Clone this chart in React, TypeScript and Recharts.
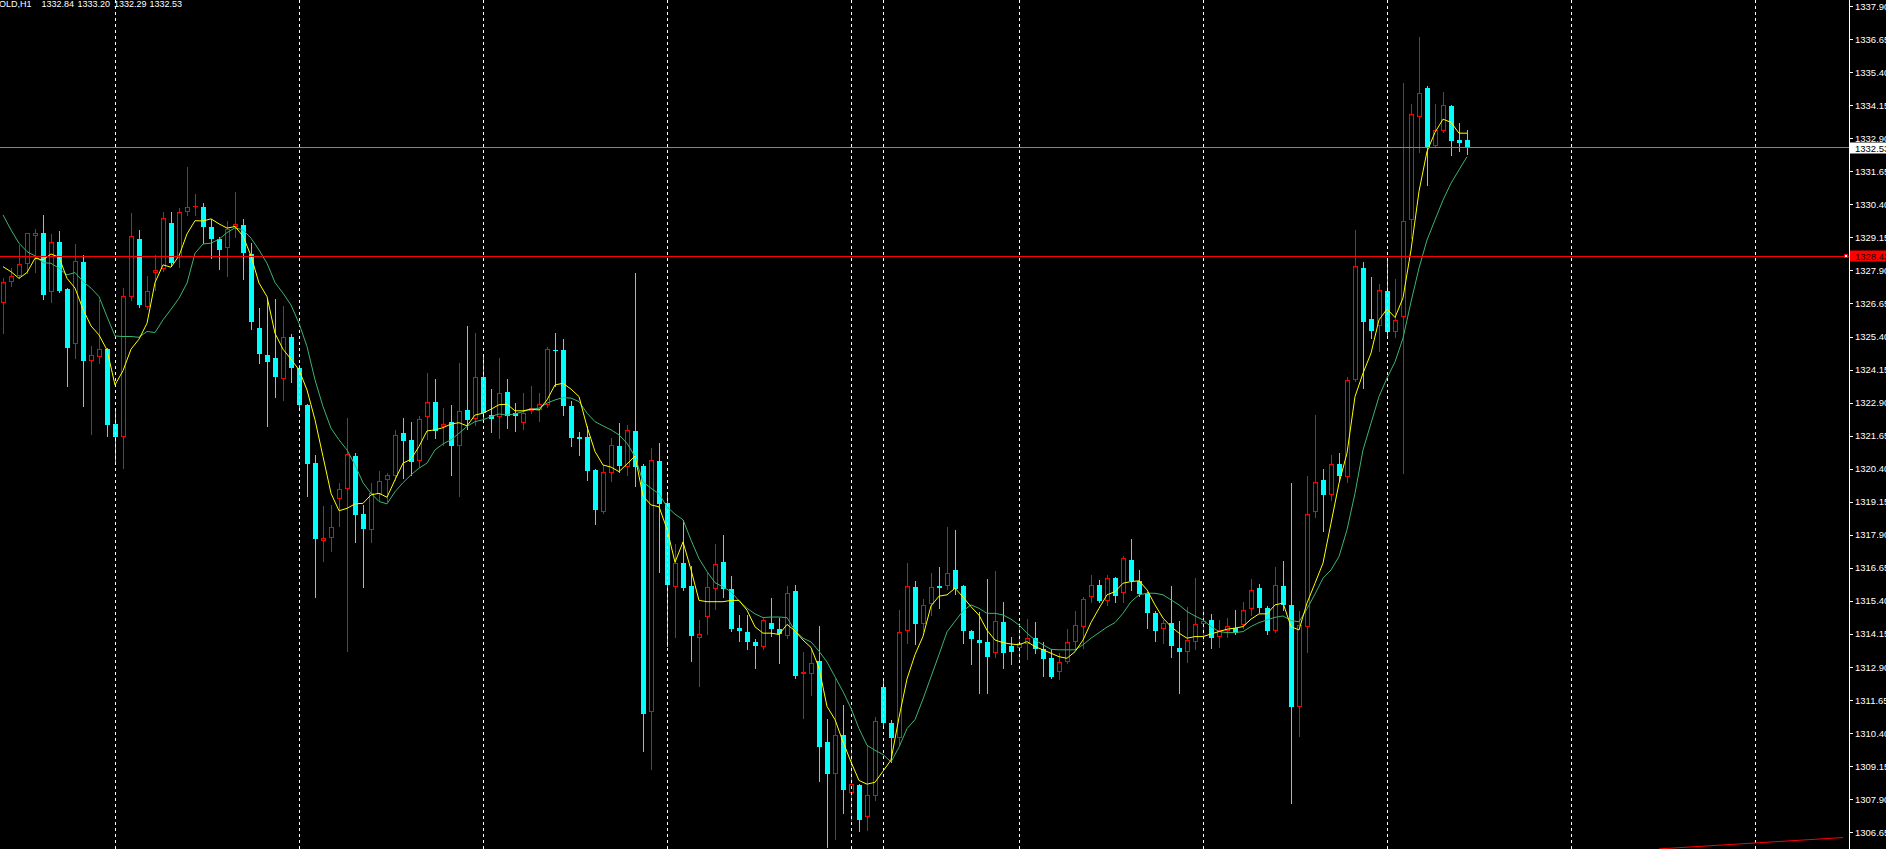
import { Bar, ComposedChart, Line, ReferenceLine, XAxis, YAxis } from "recharts";

// GOLD H1 candles (oldest first)
const opens = [
  1326.66, 1327.45, 1327.67, 1328.13, 1329.19, 1329.32, 1327.08, 1328.98, 1327.2, 1325.11,
  1328.22, 1324.49, 1324.62, 1324.93, 1322.09, 1321.59, 1326.91, 1329.09, 1326.51, 1327.82,
  1327.95, 1329.7, 1328.42, 1330.1, 1330.29, 1330.29, 1329.54, 1329.1, 1328.74, 1329.53,
  1329.62, 1328.51, 1325.73, 1324.69, 1324.59, 1323.81, 1325.38, 1324.2, 1322.81, 1320.62,
  1317.66, 1317.77, 1319.25, 1319.65, 1320.88, 1318.69, 1318.07, 1319.45, 1319.97, 1320.12,
  1321.75, 1321.49, 1320.71, 1322.35, 1322.93, 1321.97, 1322.17, 1321.25, 1322.62, 1322.28,
  1323.87, 1322.42, 1322.35, 1323.3, 1322.5, 1322.12, 1322.6, 1322.62, 1322.8, 1324.89,
  1324.89, 1322.77, 1321.6, 1321.6, 1320.34, 1318.78, 1320.25, 1321.26, 1320.48, 1321.83,
  1320.51, 1311.2, 1320.71, 1319.11, 1315.93, 1316.85, 1315.98, 1313.99, 1314.79, 1315.85,
  1316.89, 1315.85, 1314.39, 1314.23, 1313.85, 1313.65, 1314.58, 1314.34, 1314.07, 1315.79,
  1312.64, 1312.64, 1313.11, 1310.05, 1308.85, 1310.31, 1308.12, 1308.44, 1307.21, 1308.02,
  1312.15, 1310.8, 1310.22, 1314.25, 1315.93, 1314.51, 1315.29, 1315.95, 1315.95, 1316.56,
  1315.95, 1314.27, 1313.92, 1313.84, 1313.42, 1314.6, 1313.7, 1313.61, 1313.76, 1313.99,
  1313.57, 1313.24, 1312.7, 1313.08, 1313.84, 1314.4, 1315.56, 1316.0, 1315.41, 1316.28,
  1315.69, 1316.95, 1316.16, 1315.69, 1314.93, 1314.33, 1314.56, 1313.63, 1313.48, 1313.86,
  1314.52, 1314.68, 1314.03, 1314.28, 1314.37, 1314.5, 1315.09, 1315.9, 1315.12, 1314.28,
  1315.97, 1315.25, 1311.4, 1314.43, 1318.78, 1319.98, 1319.41, 1320.57, 1320.1, 1323.77,
  1327.99, 1326.07, 1325.79, 1327.12, 1325.58, 1326.15, 1329.8, 1333.69, 1334.8, 1332.62,
  1333.19, 1334.12, 1332.84, 1332.84,
];

const highs = [
  1327.62, 1327.98, 1328.86, 1329.33, 1329.47, 1330.0, 1329.28, 1329.39, 1327.25, 1328.89,
  1328.49, 1325.04, 1326.78, 1324.98, 1322.69, 1327.23, 1330.07, 1329.43, 1327.69, 1328.49,
  1330.11, 1330.11, 1330.25, 1331.81, 1330.79, 1330.44, 1329.85, 1329.18, 1329.75, 1330.87,
  1329.85, 1328.95, 1326.49, 1326.81, 1326.81, 1326.56, 1325.5, 1324.33, 1322.86, 1320.92,
  1318.99, 1319.03, 1319.87, 1322.33, 1320.99, 1319.03, 1319.87, 1320.31, 1320.25, 1321.87,
  1322.33, 1322.17, 1322.4, 1324.02, 1323.8, 1322.71, 1322.81, 1324.4, 1325.8, 1325.55,
  1324.74, 1323.43, 1324.59, 1323.8, 1322.89, 1323.27, 1323.51, 1323.27, 1325.02, 1325.54,
  1325.31, 1322.96, 1321.79, 1322.01, 1320.38, 1320.53, 1321.56, 1322.12, 1322.07, 1327.81,
  1320.58, 1321.2, 1321.38, 1319.52, 1317.56, 1318.47, 1316.72, 1314.69, 1316.45, 1317.56,
  1317.91, 1316.35, 1314.88, 1314.88, 1313.95, 1314.76, 1315.51, 1314.76, 1315.98, 1316.02,
  1313.48, 1313.6, 1314.45, 1310.95, 1312.45, 1311.48, 1309.87, 1308.48, 1309.94, 1311.01,
  1312.45, 1310.91, 1315.04, 1316.82, 1316.16, 1315.49, 1316.47, 1316.68, 1318.19, 1318.09,
  1316.0, 1314.3, 1314.97, 1316.23, 1316.53, 1315.35, 1314.05, 1314.56, 1314.72, 1314.6,
  1313.84, 1313.57, 1313.42, 1314.34, 1315.02, 1315.56, 1316.38, 1316.2, 1316.38, 1316.32,
  1317.1, 1317.74, 1316.57, 1315.74, 1315.02, 1314.68, 1315.97, 1314.64, 1315.18, 1316.28,
  1315.21, 1314.9, 1314.68, 1314.76, 1315.06, 1315.34, 1316.23, 1316.04, 1315.21, 1316.67,
  1316.91, 1319.86, 1315.02, 1320.13, 1322.43, 1320.39, 1320.92, 1320.99, 1323.85, 1329.43,
  1328.22, 1327.65, 1327.38, 1328.38, 1327.58, 1335.0, 1334.2, 1336.74, 1334.89, 1334.2,
  1334.66, 1334.16, 1333.49, 1333.2,
];

const lows = [
  1325.55, 1327.31, 1327.62, 1327.81, 1327.85, 1326.83, 1326.72, 1327.1, 1323.54, 1324.58,
  1322.79, 1321.73, 1324.39, 1321.65, 1320.67, 1320.44, 1326.78, 1326.53, 1326.44, 1327.16,
  1327.88, 1328.11, 1328.02, 1329.99, 1330.0, 1328.93, 1328.38, 1327.95, 1327.69, 1329.18,
  1327.57, 1325.68, 1324.41, 1322.03, 1323.13, 1322.98, 1323.69, 1322.62, 1319.35, 1315.53,
  1316.92, 1317.27, 1318.24, 1313.51, 1317.61, 1315.92, 1317.64, 1319.22, 1319.16, 1319.98,
  1320.04, 1320.17, 1320.48, 1321.52, 1321.55, 1321.31, 1320.17, 1319.38, 1321.89, 1322.06,
  1322.25, 1321.77, 1321.58, 1321.94, 1321.84, 1321.92, 1322.5, 1322.22, 1322.73, 1323.53,
  1322.43, 1321.24, 1320.93, 1319.98, 1318.32, 1318.72, 1319.94, 1320.29, 1320.18, 1319.76,
  1309.73, 1309.05, 1316.49, 1313.7, 1314.02, 1315.82, 1313.11, 1312.2, 1314.16, 1315.09,
  1315.53, 1314.27, 1313.89, 1313.6, 1312.85, 1313.57, 1314.07, 1313.04, 1314.0, 1312.5,
  1310.99, 1311.83, 1308.57, 1306.09, 1306.41, 1307.39, 1307.11, 1306.69, 1306.72, 1307.87,
  1310.71, 1309.31, 1309.94, 1313.81, 1313.76, 1314.27, 1314.86, 1315.14, 1315.85, 1315.65,
  1313.81, 1313.01, 1311.91, 1311.91, 1313.28, 1312.85, 1313.01, 1313.17, 1313.21, 1313.42,
  1312.57, 1312.5, 1312.45, 1313.05, 1313.58, 1313.61, 1315.34, 1315.36, 1315.25, 1315.36,
  1315.37, 1315.82, 1315.59, 1314.39, 1313.89, 1313.82, 1313.26, 1311.91, 1313.1, 1313.58,
  1313.92, 1313.61, 1313.67, 1314.03, 1314.15, 1314.37, 1314.88, 1314.98, 1314.14, 1314.23,
  1315.06, 1307.77, 1310.3, 1313.48, 1318.59, 1318.05, 1319.22, 1319.98, 1319.91, 1323.72,
  1323.47, 1325.36, 1324.87, 1325.46, 1325.4, 1320.23, 1329.13, 1332.39, 1331.13, 1332.57,
  1333.15, 1332.27, 1332.42, 1332.29,
];

const closes = [
  1327.45, 1327.67, 1328.13, 1329.31, 1329.31, 1326.98, 1328.97, 1327.14, 1324.98, 1328.25,
  1324.49, 1324.69, 1324.92, 1322.06, 1321.59, 1326.94, 1329.19, 1326.6, 1327.11, 1327.91,
  1329.87, 1328.17, 1330.1, 1330.29, 1330.32, 1329.56, 1329.1, 1328.67, 1329.48, 1329.65,
  1328.57, 1325.93, 1324.72, 1324.44, 1323.88, 1325.37, 1324.19, 1322.81, 1320.57, 1317.73,
  1317.77, 1318.19, 1319.62, 1320.95, 1318.66, 1318.12, 1319.47, 1319.93, 1320.15, 1321.67,
  1321.46, 1320.67, 1322.28, 1322.92, 1321.84, 1322.08, 1321.27, 1322.58, 1322.25, 1323.86,
  1322.5, 1322.29, 1323.26, 1322.39, 1322.41, 1322.5, 1322.69, 1322.84, 1324.92, 1324.86,
  1322.79, 1321.58, 1321.54, 1320.33, 1318.82, 1320.27, 1321.29, 1320.52, 1321.86, 1320.48,
  1311.13, 1320.73, 1319.06, 1316.01, 1316.82, 1315.89, 1314.07, 1314.15, 1315.93, 1316.81,
  1315.84, 1314.34, 1314.25, 1313.83, 1313.69, 1314.69, 1314.34, 1314.13, 1315.7, 1312.55,
  1312.71, 1313.05, 1309.87, 1308.85, 1310.31, 1308.23, 1308.49, 1307.1, 1308.05, 1310.85,
  1310.77, 1310.22, 1314.23, 1315.98, 1314.51, 1315.25, 1315.91, 1315.89, 1316.47, 1315.85,
  1314.25, 1313.95, 1313.82, 1313.29, 1314.63, 1313.42, 1313.48, 1313.8, 1314.01, 1313.57,
  1313.22, 1312.54, 1313.08, 1313.84, 1314.48, 1315.48, 1316.0, 1315.41, 1316.26, 1315.59,
  1317.02, 1316.16, 1315.65, 1314.93, 1314.28, 1314.56, 1313.71, 1313.48, 1313.92, 1314.53,
  1314.64, 1314.01, 1314.3, 1314.46, 1314.2, 1315.06, 1315.82, 1315.15, 1314.28, 1316.0,
  1315.23, 1311.4, 1314.49, 1318.68, 1319.89, 1319.41, 1320.57, 1320.13, 1323.75, 1328.07,
  1325.93, 1325.62, 1327.15, 1325.58, 1326.03, 1329.76, 1333.81, 1334.6, 1332.53, 1333.21,
  1334.15, 1332.81, 1332.73, 1332.53,
];

// moving averages as drawn (yellow = fast, green = slow)
const fastMa = [
  1328.04, 1327.85, 1327.6, 1327.82, 1328.36, 1328.3, 1328.52, 1328.4, 1327.6, 1327.23,
  1326.43, 1325.8, 1325.46, 1324.89, 1323.57, 1324.11, 1324.92, 1325.3, 1325.9, 1327.44,
  1328.11, 1328.02, 1328.45, 1329.28, 1329.78, 1329.77, 1329.85, 1329.66, 1329.5, 1329.56,
  1329.2, 1328.45, 1327.42, 1326.91, 1325.52, 1324.92, 1324.54, 1324.14, 1323.38, 1322.25,
  1320.86, 1319.47, 1318.81, 1318.9, 1319.07, 1319.09, 1319.41, 1319.47, 1319.32, 1319.98,
  1320.61, 1320.76, 1321.24, 1321.83, 1321.87, 1321.95, 1322.09, 1322.14, 1322.02, 1322.43,
  1322.5, 1322.65, 1322.82, 1322.84, 1322.59, 1322.59, 1322.65, 1322.62, 1323.0, 1323.57,
  1323.63, 1323.41, 1323.13, 1321.99, 1321.05, 1320.54, 1320.46, 1320.29, 1320.58, 1320.88,
  1319.37, 1319.03, 1318.96, 1318.12, 1316.86, 1317.63, 1316.58, 1315.42, 1315.37, 1315.37,
  1315.37, 1315.42, 1315.42, 1315.05, 1314.42, 1314.18, 1314.18, 1314.13, 1314.51, 1314.27,
  1313.92, 1313.64, 1312.87, 1311.41, 1310.91, 1310.07, 1309.31, 1308.61, 1308.47, 1308.54,
  1308.96, 1309.38, 1310.99, 1312.45, 1313.37, 1314.06, 1315.21, 1315.58, 1315.63, 1315.88,
  1315.55, 1315.18, 1314.86, 1314.29, 1313.92, 1313.82, 1313.77, 1313.74, 1313.86, 1313.67,
  1313.55, 1313.42, 1313.29, 1313.23, 1313.48, 1313.92, 1314.58, 1315.12, 1315.63, 1315.75,
  1316.07, 1316.13, 1316.16, 1315.82, 1315.25, 1314.75, 1314.43, 1314.18, 1313.99, 1314.05,
  1314.05, 1314.15, 1314.24, 1314.33, 1314.37, 1314.43, 1314.71, 1314.91, 1314.91, 1315.25,
  1315.32, 1314.43, 1314.3, 1315.32, 1316.07, 1316.83, 1318.34, 1319.85, 1320.99, 1323.13,
  1324.01, 1324.77, 1326.03, 1326.44, 1326.12, 1326.86, 1328.67, 1330.89, 1332.4, 1333.12,
  1333.62, 1333.5, 1333.09, 1333.09,
];

const slowMa = [
  1330.0, 1329.43, 1328.93, 1328.61, 1328.45, 1328.19, 1328.17, 1327.98, 1327.73, 1327.82,
  1327.48, 1327.23, 1326.91, 1326.15, 1325.42, 1325.4, 1325.4, 1325.37, 1325.59, 1325.55,
  1326.03, 1326.43, 1326.85, 1327.42, 1328.55, 1328.9, 1328.93, 1329.08, 1329.33, 1329.51,
  1329.43, 1329.12, 1328.67, 1328.17, 1327.44, 1327.04, 1326.59, 1325.9, 1325.02, 1323.76,
  1322.75, 1321.93, 1321.49, 1321.11, 1320.54, 1319.87, 1319.47, 1319.16, 1319.07, 1319.53,
  1319.87, 1320.17, 1320.42, 1320.61, 1321.11, 1321.34, 1321.49, 1321.74, 1322.0, 1322.18,
  1322.25, 1322.37, 1322.47, 1322.43, 1322.47, 1322.56, 1322.65, 1322.69, 1322.88, 1323.0,
  1323.09, 1323.07, 1322.94, 1322.5, 1322.18, 1322.02, 1321.87, 1321.68, 1321.36, 1320.86,
  1319.9, 1319.66, 1319.45, 1318.96, 1318.68, 1318.47, 1317.7, 1317.0, 1316.51, 1316.09,
  1315.93, 1315.75, 1315.4, 1315.12, 1314.91, 1314.77, 1314.79, 1314.79, 1314.77, 1314.27,
  1313.99, 1313.85, 1313.5, 1313.09, 1312.53, 1311.97, 1311.34, 1310.57, 1309.94, 1309.75,
  1309.59, 1309.31, 1309.87, 1310.57, 1310.91, 1311.69, 1312.53, 1313.37, 1314.23, 1314.63,
  1315.02, 1315.25, 1315.12, 1314.93, 1314.93, 1314.87, 1314.71, 1314.49, 1314.18, 1313.92,
  1313.74, 1313.57, 1313.55, 1313.55, 1313.55, 1313.74, 1313.99, 1314.2, 1314.41, 1314.58,
  1314.93, 1315.37, 1315.63, 1315.69, 1315.69, 1315.63, 1315.44, 1315.25, 1315.0, 1314.83,
  1314.68, 1314.43, 1314.24, 1314.2, 1314.2, 1314.24, 1314.43, 1314.58, 1314.68, 1314.78,
  1314.83, 1314.66, 1314.61, 1315.1, 1315.66, 1316.26, 1316.57, 1317.08, 1318.09, 1319.47,
  1321.11, 1322.12, 1323.13, 1323.83, 1324.44, 1325.34, 1326.71, 1327.99, 1329.05, 1329.81,
  1330.56, 1331.2, 1331.7, 1332.2,
];

const priceTicks = [
  1306.65, 1307.9, 1309.15, 1310.4, 1311.65, 1312.9, 1314.15, 1315.4, 1316.65, 1317.9,
  1319.15, 1320.4, 1321.65, 1322.9, 1324.15, 1325.4, 1326.65, 1327.9, 1329.15, 1330.4,
  1331.65, 1332.9, 1334.15, 1335.4, 1336.65, 1337.9,
];

// bars that carry a period separator (the last two sit in the empty shift area)
const separatorBars = [14, 37, 60, 83, 106, 110, 127, 150, 173, 196, 219];
const slotCount = 231;
const symbol = "GOLD,H1";
const bidPrice = 1332.53;
const levelPrice = 1328.43;
const trendLine = [
  { x: 207, y: 1306.02 },
  { x: 230, y: 1306.45 },
];

const FONT = '"Liberation Sans", Arial, sans-serif';
const CYAN = "#00ffff";
const RED = "#ff0000";

const data = Array.from({ length: slotCount }, (_, i) =>
  i < opens.length
    ? { i, o: opens[i], h: highs[i], l: lows[i], c: closes[i], fast: fastMa[i], slow: slowMa[i] }
    : { i }
);

const last = opens.length - 1;
const titleParts = [
  symbol,
  opens[last].toFixed(2),
  highs[last].toFixed(2),
  lows[last].toFixed(2),
  closes[last].toFixed(2),
];
const titleX = [-8, 41.5, 77.5, 114, 149.5];

const Candle = (props: any) => {
  const { x, y, width, height, payload } = props;
  if (!payload || payload.o == null || x == null) return <g />;
  const top = Math.min(y, y + height);
  const bottom = Math.max(y, y + height);
  const span = payload.h - payload.l || 1;
  const toY = (v: number) => top + ((payload.h - v) / span) * (bottom - top);
  const cx = Math.floor(x + width / 2) + 0.5;
  const bull = payload.c > payload.o;
  const color = bull ? RED : CYAN;
  const yo = Math.round(toY(payload.o));
  const yc = Math.round(toY(payload.c));
  const bTop = Math.min(yo, yc);
  const bBot = Math.max(yo, yc);

  return (
    <g>
      <line x1={cx} x2={cx} y1={Math.round(top)} y2={Math.round(bottom) + 1} stroke={color} />
      {bull ? (
        bBot - bTop >= 2 ? (
          <rect x={cx - 2} y={bTop + 0.5} width={4} height={bBot - bTop - 1} fill="#000" stroke={color} />
        ) : (
          <line x1={cx - 2.5} x2={cx + 2.5} y1={bTop + 0.5} y2={bTop + 0.5} stroke={color} />
        )
      ) : (
        <rect x={cx - 2.5} y={bTop} width={5} height={Math.max(bBot - bTop, 1)} fill={color} />
      )}
    </g>
  );
};

const PriceTick = (props: any) => {
  const { x, y, payload } = props;
  const ty = Math.round(y) + 0.5;
  return (
    <g>
      <line x1={x + 1} x2={x + 4} y1={ty} y2={ty} stroke="#fff" />
      <text x={x + 6} y={y + 3.5} fill="#fff" fontSize={9.5} fontFamily={FONT}>
        {payload.value.toFixed(2)}
      </text>
    </g>
  );
};

const PriceTag = (props: any) => {
  const { viewBox, text, bg, fg, marker } = props;
  if (!viewBox) return null;
  const right = viewBox.x + viewBox.width;
  const y = Math.round(viewBox.y);
  return (
    <g>
      {marker && <rect x={right - 4.5} y={y - 1.5} width={3} height={3} fill="#fff" stroke={marker} />}
      <rect x={right + 1} y={y - 5.5} width={40} height={11} fill={bg} />
      <text x={right + 6} y={y + 3.5} fill={fg} fontSize={9.5} fontFamily={FONT}>
        {text}
      </text>
    </g>
  );
};

export default function App() {
  return (
    <div
      style={{
        position: "absolute",
        left: 0,
        top: 0,
        width: 1886,
        height: 849,
        background: "#000",
        overflow: "hidden",
      }}
    >
      <ComposedChart
        width={1886}
        height={849}
        data={data}
        margin={{ top: 0, right: 0, bottom: 0, left: -1 }}
      >
        <XAxis dataKey="i" type="category" hide padding={{ left: 0, right: 2 }} />
        <YAxis
          orientation="right"
          width={37}
          type="number"
          domain={[1306.017, 1338.127]}
          allowDataOverflow
          ticks={priceTicks}
          interval={0}
          tickSize={0}
          tickMargin={0}
          tickLine={false}
          axisLine={{ stroke: "#fff", shapeRendering: "crispEdges" }}
          tick={(p: any) => <PriceTick {...p} />}
        />
        {separatorBars.map((b) => (
          <ReferenceLine
            key={b}
            x={b}
            stroke="#fff"
            strokeDasharray="3 3"
            shapeRendering="crispEdges"
          />
        ))}
        <Bar
          dataKey={(d: any) => (d.o == null ? null : [d.l, d.h])}
          barSize={5}
          shape={(p: any) => <Candle {...p} />}
          isAnimationActive={false}
        />
        <Line
          dataKey="slow"
          stroke="#3cb371"
          strokeWidth={1}
          dot={false}
          activeDot={false}
          isAnimationActive={false}
        />
        <Line
          dataKey="fast"
          stroke="#ffff00"
          strokeWidth={1}
          dot={false}
          activeDot={false}
          isAnimationActive={false}
        />
        <ReferenceLine
          y={levelPrice}
          stroke={RED}
          shapeRendering="crispEdges"
          label={<PriceTag text={levelPrice.toFixed(2)} bg={RED} fg="#200000" marker={RED} />}
        />
        <ReferenceLine
          y={bidPrice}
          stroke="#778899"
          shapeRendering="crispEdges"
          label={<PriceTag text={bidPrice.toFixed(2)} bg="#fff" fg="#000" />}
        />
        <ReferenceLine segment={trendLine} stroke={RED} />
      </ComposedChart>
      <div
        style={{
          position: "absolute",
          left: 0,
          top: -2,
          height: 14,
          width: 400,
          color: "#fff",
          fontFamily: FONT,
          fontSize: 9,
          lineHeight: "12px",
          pointerEvents: "none",
        }}
      >
        {titleParts.map((t, k) => (
          <span key={k} style={{ position: "absolute", left: titleX[k], whiteSpace: "pre" }}>
            {t}
          </span>
        ))}
      </div>
    </div>
  );
}
